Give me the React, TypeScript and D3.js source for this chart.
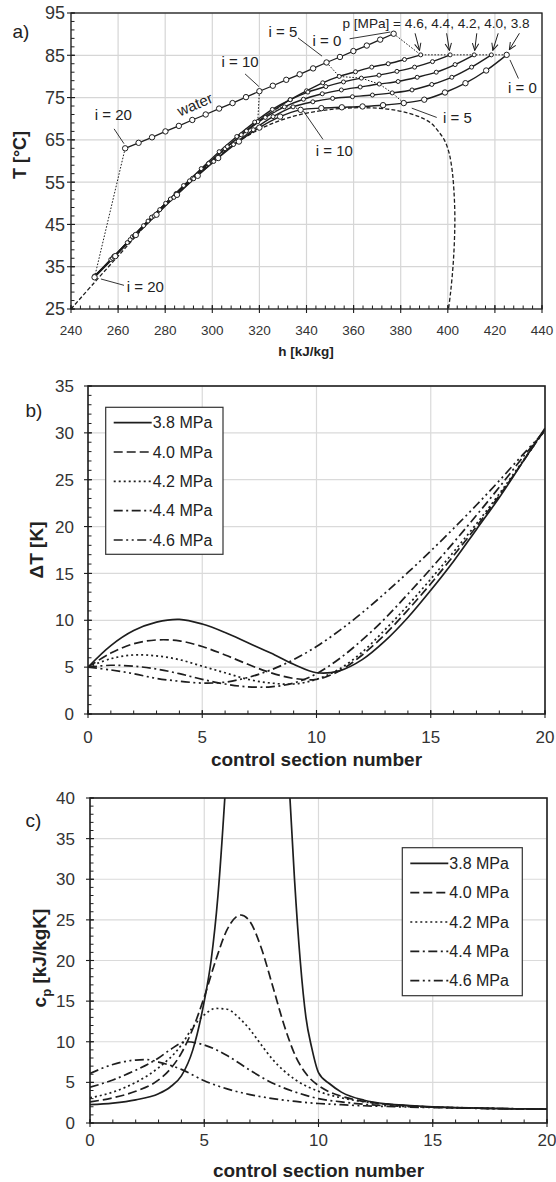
import React from "react";
import * as d3 from "d3";

const FONT = "'Liberation Sans', Arial, Helvetica, sans-serif";
const INK = "#1e1e1e";

// ---------------- panel a : h–T diagram ----------------
const hTicksA = [240, 260, 280, 300, 320, 340, 360, 380, 400, 420, 440];
const tTicksA = [25, 35, 45, 55, 65, 75, 85, 95];

const hWater = [377.0, 371.3, 365.6, 359.9, 354.2, 348.5, 342.8, 337.1, 331.4, 325.7, 320.0, 314.3, 308.6, 302.9, 297.2, 291.5, 285.8, 280.1, 274.4, 268.7, 263.0];
const tWater = [90.1, 88.7, 87.3, 86.0, 84.6, 83.3, 81.9, 80.5, 79.2, 77.8, 76.5, 75.1, 73.7, 72.4, 71.0, 69.7, 68.3, 67.0, 65.6, 64.3, 63.0];

const h46 = [388.5, 381.6, 374.7, 367.7, 360.8, 353.9, 346.9, 340.0, 333.1, 326.2, 319.3, 312.3, 305.4, 298.5, 291.6, 284.6, 277.7, 270.8, 263.9, 256.9, 250.0];
const t46 = [85.1, 84.0, 83.0, 82.2, 81.1, 80.0, 78.5, 76.6, 74.5, 72.0, 69.3, 66.2, 62.9, 59.5, 55.9, 52.3, 48.5, 44.7, 40.7, 36.7, 32.8];
const h44 = [401.0, 393.5, 385.9, 378.4, 370.8, 363.3, 355.7, 348.2, 340.6, 333.1, 325.5, 318.0, 310.4, 302.9, 295.3, 287.8, 280.2, 272.7, 265.1, 257.6, 250.0];
const t44 = [85.1, 83.5, 82.2, 81.2, 80.3, 79.6, 78.7, 77.6, 76.3, 74.5, 72.2, 69.2, 65.8, 62.2, 58.2, 54.2, 50.0, 45.8, 41.4, 37.0, 32.7];
const h42 = [411.2, 403.1, 395.1, 387.0, 378.9, 370.9, 362.8, 354.8, 346.7, 338.7, 330.6, 322.5, 314.5, 306.4, 298.4, 290.3, 282.2, 274.2, 266.1, 258.1, 250.0];
const t42 = [85.1, 82.8, 81.0, 79.8, 78.8, 78.2, 77.5, 76.8, 75.9, 74.6, 72.8, 70.3, 67.1, 63.4, 59.4, 55.3, 51.0, 46.7, 42.1, 37.4, 32.7];
const h40 = [418.5, 410.1, 401.7, 393.2, 384.8, 376.4, 368.0, 359.5, 351.1, 342.7, 334.3, 325.8, 317.4, 309.0, 300.6, 292.1, 283.7, 275.3, 266.9, 258.4, 250.0];
const t40 = [85.1, 82.2, 79.8, 78.1, 76.8, 76.1, 75.6, 75.2, 74.8, 74.0, 72.8, 70.5, 67.4, 63.9, 59.9, 55.8, 51.4, 47.0, 42.3, 37.5, 32.6];
const h38 = [425.0, 416.3, 407.5, 398.8, 390.0, 381.3, 372.5, 363.8, 355.0, 346.3, 337.5, 328.8, 320.0, 311.3, 302.5, 293.8, 285.0, 276.3, 267.5, 258.8, 250.0];
const t38 = [85.1, 81.4, 78.4, 76.2, 74.5, 73.7, 73.2, 72.9, 72.7, 72.5, 72.1, 70.5, 67.9, 64.6, 60.7, 56.5, 52.0, 47.3, 42.5, 37.5, 32.5];

const domeH = [240, 250, 259, 268, 278, 292, 306, 320, 334, 345, 354, 362, 370, 378, 384, 389, 393, 396, 398.5, 400.5, 401.8, 402.6, 403, 402.8, 402.2, 401.2, 400.3];
const domeT = [25, 31.3, 36.9, 42.5, 48.8, 55.9, 62.6, 67.5, 70.5, 71.8, 72.4, 72.6, 72.5, 72.0, 71.2, 70.2, 68.9, 67.0, 65.0, 62.0, 58.0, 53.0, 47.0, 41.0, 35.0, 29.0, 25.0];

const pressureText = "p [MPa] = 4.6, 4.4, 4.2, 4.0, 3.8";
const arrowStartH = [386.1, 399.5, 412.3, 421.4, 430.4];

// ---------------- panel b : temperature difference ----------------
const sections = [0, 1, 2, 3, 4, 5, 6, 7, 8, 9, 10, 11, 12, 13, 14, 15, 16, 17, 18, 19, 20];
const sectionTicks = [0, 5, 10, 15, 20];
const dtTicks = [0, 5, 10, 15, 20, 25, 30, 35];
const legendLabels = ["3.8 MPa", "4.0 MPa", "4.2 MPa", "4.4 MPa", "4.6 MPa"];

const dT38 = [5.0, 7.3, 8.9, 9.8, 10.1, 9.6, 8.7, 7.6, 6.5, 5.3, 4.4, 4.6, 5.8, 7.8, 10.3, 13.2, 16.3, 19.7, 23.1, 26.8, 30.5];
const dT40 = [5.0, 6.5, 7.5, 7.9, 7.8, 7.2, 6.3, 5.3, 4.4, 3.8, 3.7, 4.6, 6.3, 8.5, 11.1, 13.9, 16.9, 20.0, 23.3, 26.8, 30.4];
const dT42 = [5.0, 5.9, 6.3, 6.2, 5.8, 5.1, 4.4, 3.7, 3.3, 3.2, 3.7, 4.8, 6.6, 9.0, 11.6, 14.4, 17.3, 20.3, 23.5, 26.9, 30.3];
const dT44 = [5.0, 5.2, 5.1, 4.8, 4.3, 3.7, 3.2, 2.9, 2.9, 3.3, 4.3, 5.9, 7.9, 10.2, 12.8, 15.5, 18.3, 21.2, 24.2, 27.3, 30.3];
const dT46 = [5.0, 4.7, 4.3, 3.8, 3.5, 3.3, 3.4, 3.9, 4.7, 5.8, 7.2, 8.9, 10.8, 12.9, 15.1, 17.4, 19.8, 22.3, 24.9, 27.6, 30.2];

// ---------------- panel c : specific heat ----------------
const cpTicks = [0, 5, 10, 15, 20, 25, 30, 35, 40];
const cpX38 = [0, 1, 2, 3, 3.5, 4, 4.5, 5, 5.3, 5.6, 5.9, 6.3, 7, 8, 8.4, 8.75, 8.95, 9.2, 9.45, 9.7, 10, 10.5, 11, 12, 13, 14, 15, 16, 17, 18, 19, 20];
const cpY38 = [2.25, 2.45, 2.85, 3.6, 4.4, 5.8, 9.0, 15.0, 20.0, 28.0, 40, 60, 90, 75, 60, 40, 30, 20, 13, 9.3, 6.2, 4.8, 3.8, 2.8, 2.35, 2.15, 2.0, 1.9, 1.84, 1.78, 1.74, 1.7];
const cpX40 = [0, 1, 2, 3, 3.5, 4, 4.5, 5, 5.5, 6, 6.6, 7, 7.5, 8, 8.5, 9, 9.5, 10, 10.5, 11, 12, 13, 14, 15, 16, 17, 18, 19, 20];
const cpY40 = [2.6, 3.1, 3.9, 5.3, 6.6, 8.6, 11.6, 15.5, 20.0, 23.8, 25.6, 24.8, 21.5, 16.8, 12.0, 8.2, 5.9, 4.6, 3.8, 3.3, 2.65, 2.3, 2.1, 1.95, 1.88, 1.82, 1.77, 1.73, 1.7];
const cpX42 = [0, 1, 2, 3, 4, 4.5, 5, 5.5, 6, 6.5, 7, 7.5, 8, 8.5, 9, 10, 11, 12, 13, 14, 15, 16, 17, 18, 19, 20];
const cpY42 = [3.1, 3.8, 5.0, 6.8, 9.6, 11.8, 13.3, 14.1, 14.0, 13.0, 11.5, 9.6, 7.8, 6.4, 5.3, 3.9, 3.1, 2.6, 2.3, 2.1, 1.97, 1.9, 1.83, 1.78, 1.74, 1.7];
const cpX44 = [0, 1, 2, 3, 3.5, 4.2, 5, 6, 7, 8, 9, 10, 11, 12, 13, 14, 15, 16, 17, 18, 19, 20];
const cpY44 = [4.4, 5.3, 6.5, 8.0, 9.0, 10.0, 9.6, 8.3, 6.5, 4.9, 3.8, 3.0, 2.6, 2.3, 2.12, 2.02, 1.94, 1.87, 1.82, 1.77, 1.73, 1.7];
const cpX46 = [0, 1, 2, 2.5, 3, 4, 5, 6, 7, 8, 9, 10, 11, 12, 13, 14, 15, 16, 17, 18, 19, 20];
const cpY46 = [6.1, 7.2, 7.75, 7.8, 7.5, 6.6, 5.2, 4.2, 3.5, 3.0, 2.65, 2.4, 2.25, 2.12, 2.03, 1.96, 1.9, 1.85, 1.8, 1.76, 1.73, 1.7];

const DASHES = ["none", "9 4", "2 3", "9 3.5 2 3.5", "9 3.5 2 3.5 2 3.5"];

function range(a: number, b: number, s: number) {
  const out: number[] = [];
  for (let v = a; v <= b + 1e-9; v += s) out.push(+v.toFixed(6));
  return out;
}

type FrameProps = {
  x: d3.ScaleLinear<number, number>;
  y: d3.ScaleLinear<number, number>;
  xMajor: number[];
  yMajor: number[];
  xMinor: number[];
  yMinor: number[];
  xFont: number;
  yFont: number;
  xLabelY: number;
  yLabelX: number;
  grid: string;
  frameW: number;
};

function Frame(p: FrameProps) {
  const [x0, x1] = p.x.range();
  const [y0, y1] = p.y.range();
  return (
    <g>
      {p.xMajor.map((v) => (
        <line key={"gx" + v} x1={p.x(v)} x2={p.x(v)} y1={y0} y2={y1} stroke={p.grid} strokeWidth={1.2} />
      ))}
      {p.yMajor.map((v) => (
        <line key={"gy" + v} x1={x0} x2={x1} y1={p.y(v)} y2={p.y(v)} stroke={p.grid} strokeWidth={1.2} />
      ))}
      {p.xMinor.map((v) => (
        <line key={"mx" + v} x1={p.x(v)} x2={p.x(v)} y1={y0} y2={y0 - 3.5} stroke={INK} strokeWidth={1} />
      ))}
      {p.yMinor.map((v) => (
        <line key={"my" + v} x1={x0} x2={x0 + 3.5} y1={p.y(v)} y2={p.y(v)} stroke={INK} strokeWidth={1} />
      ))}
      {p.xMajor.map((v) => (
        <line key={"tx" + v} x1={p.x(v)} x2={p.x(v)} y1={y0 + 4} y2={y0 - 4} stroke={INK} strokeWidth={1.1} />
      ))}
      {p.yMajor.map((v) => (
        <line key={"ty" + v} x1={x0 - 4} x2={x0 + 4} y1={p.y(v)} y2={p.y(v)} stroke={INK} strokeWidth={1.1} />
      ))}
      <rect x={x0} y={y1} width={x1 - x0} height={y0 - y1} fill="none" stroke={INK} strokeWidth={p.frameW} />
      {p.xMajor.map((v) => (
        <text key={"lx" + v} x={p.x(v)} y={p.xLabelY} textAnchor="middle" fontSize={p.xFont} fill="#333">
          {v}
        </text>
      ))}
      {p.yMajor.map((v) => (
        <text key={"ly" + v} x={p.yLabelX} y={p.y(v)} dy="0.36em" textAnchor="end" fontSize={p.yFont} fill="#333">
          {v}
        </text>
      ))}
    </g>
  );
}

function Legend({ x, y, w, h, rowY }: { x: number; y: number; w: number; h: number; rowY: number[] }) {
  return (
    <g>
      <rect x={x} y={y} width={w} height={h} fill="#fff" stroke="#333" strokeWidth={1.2} />
      {legendLabels.map((lab, k) => (
        <g key={lab}>
          <line x1={x + 8} x2={x + 46} y1={rowY[k]} y2={rowY[k]} stroke={INK} strokeWidth={1.7} strokeDasharray={DASHES[k]} />
          <text x={x + 47} y={rowY[k]} dy="0.36em" fontSize={16} fill="#222">
            {lab}
          </text>
        </g>
      ))}
    </g>
  );
}

export default function App() {
  // ---- scales
  const xA = d3.scaleLinear().domain([240, 440]).range([71, 542]);
  const yA = d3.scaleLinear().domain([25, 95]).range([309, 13]);
  const xB = d3.scaleLinear().domain([0, 20]).range([88, 545]);
  const yB = d3.scaleLinear().domain([0, 35]).range([714, 386]);
  const xC = d3.scaleLinear().domain([0, 20]).range([90, 547]);
  const yC = d3.scaleLinear().domain([0, 40]).range([1123, 798]);

  // ---- panel a
  const co2 = [
    { h: h46, t: t46, r: 2.0 },
    { h: h44, t: t44, r: 2.0 },
    { h: h42, t: t42, r: 2.0 },
    { h: h40, t: t40, r: 2.0 },
    { h: h38, t: t38, r: 2.7 },
  ];
  const lineA = d3
    .line<[number, number]>()
    .x((d) => xA(d[0]))
    .y((d) => yA(d[1]))
    .curve(d3.curveCatmullRom.alpha(0.5));
  const linA = d3
    .line<[number, number]>()
    .x((d) => xA(d[0]))
    .y((d) => yA(d[1]));
  const pts = (hs: number[], ts: number[]) => hs.map((h, i) => [h, ts[i]] as [number, number]);
  const connector = (i: number) => [[hWater[i], tWater[i]] as [number, number], ...co2.map((s) => [s.h[i], s.t[i]] as [number, number])];
  const conn20: [number, number][] = [
    [hWater[20], tWater[20]],
    [h38[20], t38[20]],
  ];

  const waterAngle =
    (Math.atan2(yA(tWater[20]) - yA(tWater[0]), xA(hWater[20]) - xA(hWater[0])) * 180) / Math.PI + 180;

  const labelsA = [
    { s: "i = 0", h: 348.7, t: 87.3 },
    { s: "i = 5", h: 330.0, t: 89.3 },
    { s: "i = 10", h: 311.8, t: 82.15 },
    { s: "i = 20", h: 258.0, t: 69.6 },
    { s: "i = 10", h: 351.8, t: 61.2 },
    { s: "i = 5", h: 404.1, t: 68.9 },
    { s: "i = 0", h: 431.7, t: 76.1 },
    { s: "i = 20", h: 271.6, t: 29.0 },
  ];
  const leadersA = [
    [358.3, 88.9, 375.6, 90.5],
    [336.4, 89.1, 346.6, 84.8],
    [313.9, 80.6, 319.8, 77.6],
    [258.3, 67.6, 262.5, 64.1],
    [338.7, 71.8, 347.0, 65.1],
    [384.7, 72.5, 395.3, 70.3],
    [426.4, 83.9, 430.0, 79.5],
    [252.7, 32.1, 262.5, 30.6],
  ];

  // ---- panel b
  const lineB = d3
    .line<number>()
    .x((_, i) => xB(sections[i]))
    .y((d) => yB(d))
    .curve(d3.curveCatmullRom.alpha(0.5));
  const dTs = [dT38, dT40, dT42, dT44, dT46];

  // ---- panel c
  const lineC = d3
    .line<[number, number]>()
    .x((d) => xC(d[0]))
    .y((d) => yC(d[1]))
    .curve(d3.curveMonotoneX);
  const cps = [
    pts(cpX38, cpY38),
    pts(cpX40, cpY40),
    pts(cpX42, cpY42),
    pts(cpX44, cpY44),
    pts(cpX46, cpY46),
  ];

  return (
    <svg
      width={556}
      height={1182}
      viewBox="0 0 556 1182"
      style={{ position: "absolute", left: 0, top: 0, background: "#fff" }}
      fontFamily={FONT}
    >
      <defs>
        <marker id="arr" viewBox="0 0 8 8" refX={7.5} refY={4} markerWidth={8} markerHeight={8} markerUnits="userSpaceOnUse" orient="auto">
          <path d="M0.5,0.8 L7.5,4 L0.5,7.2" fill="none" stroke={INK} strokeWidth={1} />
        </marker>
        <clipPath id="clipC">
          <rect x={90} y={798} width={457} height={325} />
        </clipPath>
        <clipPath id="clipB">
          <rect x={88} y={386} width={457} height={328} />
        </clipPath>
      </defs>
      <rect x={0} y={0} width={556} height={1182} fill="#fff" />

      {/* ================= panel a ================= */}
      <Frame
        x={xA}
        y={yA}
        xMajor={hTicksA}
        yMajor={tTicksA}
        xMinor={range(240, 440, 4)}
        yMinor={range(25, 95, 2)}
        xFont={13.5}
        yFont={18}
        xLabelY={335}
        yLabelX={65}
        grid="#d6d6d6"
        frameW={1.3}
      />
      <text x={21} y={38} fontSize={19} fill="#222" textAnchor="middle">a)</text>
      <text x={306} y={356} fontSize={13.5} fontWeight="bold" textAnchor="middle" fill="#222">h [kJ/kg]</text>
      <text transform="translate(19.5,155) rotate(-90)" fontSize={18} fontWeight="bold" textAnchor="middle" dy="0.36em" fill="#222">
        T [°C]
      </text>

      <path d={lineA(pts(domeH, domeT)) || ""} fill="none" stroke={INK} strokeWidth={1.3} strokeDasharray="4 2.2" />
      {[0, 5, 10].map((i) => (
        <path key={"c" + i} d={linA(connector(i)) || ""} fill="none" stroke={INK} strokeWidth={1} strokeDasharray="1.6 1.6" />
      ))}
      <path d={linA(conn20) || ""} fill="none" stroke={INK} strokeWidth={1} strokeDasharray="1.6 1.6" />

      <path d={linA(pts(hWater, tWater)) || ""} fill="none" stroke={INK} strokeWidth={1.3} />
      {co2.map((s, k) => (
        <path key={"co" + k} d={lineA(pts(s.h, s.t)) || ""} fill="none" stroke={INK} strokeWidth={1.4} />
      ))}
      {co2.map((s, k) =>
        s.h.map((h, i) => (
          <circle key={"m" + k + "_" + i} cx={xA(h)} cy={yA(s.t[i])} r={s.r} fill="#fff" stroke={INK} strokeWidth={1} />
        ))
      )}
      {hWater.map((h, i) => (
        <circle key={"w" + i} cx={xA(h)} cy={yA(tWater[i])} r={2.7} fill="#fff" stroke={INK} strokeWidth={1} />
      ))}

      <text
        transform={`translate(${xA(292.6)},${yA(73.4)}) rotate(${waterAngle})`}
        fontSize={15}
        textAnchor="middle"
        dy="0.36em"
        fill="#222"
      >
        water
      </text>
      <text x={xA(395)} y={yA(91.45)} fontSize={13.6} textAnchor="middle" fill="#222">
        {pressureText}
      </text>
      {co2.map((s, k) => (
        <line
          key={"ar" + k}
          x1={xA(arrowStartH[k])}
          y1={yA(90.2)}
          x2={xA(s.h[0]) + (arrowStartH[k] - s.h[0]) * 0.5}
          y2={yA(s.t[0]) - s.r - 2.5}
          stroke={INK}
          strokeWidth={1}
          markerEnd="url(#arr)"
        />
      ))}
      {labelsA.map((l, k) => (
        <text key={"la" + k} x={xA(l.h)} y={yA(l.t)} fontSize={15} textAnchor="middle" fill="#222">
          {l.s}
        </text>
      ))}
      {leadersA.map((l, k) => (
        <line key={"le" + k} x1={xA(l[0])} y1={yA(l[1])} x2={xA(l[2])} y2={yA(l[3])} stroke={INK} strokeWidth={0.9} />
      ))}

      {/* ================= panel b ================= */}
      <Frame
        x={xB}
        y={yB}
        xMajor={sectionTicks}
        yMajor={dtTicks}
        xMinor={range(0, 20, 1)}
        yMinor={range(0, 35, 1)}
        xFont={17}
        yFont={17}
        xLabelY={743}
        yLabelX={74}
        grid="#dadada"
        frameW={1.6}
      />
      <text x={34} y={417} fontSize={19} fill="#222" textAnchor="middle">b)</text>
      <text x={316.5} y={766} fontSize={19} fontWeight="bold" textAnchor="middle" fill="#222">control section number</text>
      <text transform="translate(36,550) rotate(-90)" fontSize={19} fontWeight="bold" textAnchor="middle" dy="0.36em" fill="#222">
        ΔT  [K]
      </text>
      <g clipPath="url(#clipB)">
        {dTs.map((d, k) => (
          <path key={"b" + k} d={lineB(d) || ""} fill="none" stroke={INK} strokeWidth={1.7} strokeDasharray={DASHES[k]} />
        ))}
      </g>
      <Legend x={105.7} y={407.3} w={117.3} h={147} rowY={[422.7, 452, 481.3, 510.7, 540]} />

      {/* ================= panel c ================= */}
      <Frame
        x={xC}
        y={yC}
        xMajor={sectionTicks}
        yMajor={cpTicks}
        xMinor={range(0, 20, 1)}
        yMinor={range(0, 40, 1)}
        xFont={17}
        yFont={17}
        xLabelY={1146}
        yLabelX={75}
        grid="#dadada"
        frameW={1.6}
      />
      <text x={33.5} y={827} fontSize={19} fill="#222" textAnchor="middle">c)</text>
      <text x={318.5} y={1177} fontSize={19} fontWeight="bold" textAnchor="middle" fill="#222">control section number</text>
      <text transform="translate(39,958) rotate(-90)" fontSize={19} fontWeight="bold" textAnchor="middle" dy="0.36em" fill="#222">
        c<tspan fontSize={13} dy="5">p</tspan>
        <tspan dy="-5"> [kJ/kgK]</tspan>
      </text>
      <g clipPath="url(#clipC)">
        {cps.map((d, k) => (
          <path key={"c" + k} d={lineC(d) || ""} fill="none" stroke={INK} strokeWidth={1.7} strokeDasharray={DASHES[k]} />
        ))}
      </g>
      <Legend x={402.3} y={847.7} w={120} h={148} rowY={[863.3, 892.7, 922, 951.3, 980.7]} />
    </svg>
  );
}
